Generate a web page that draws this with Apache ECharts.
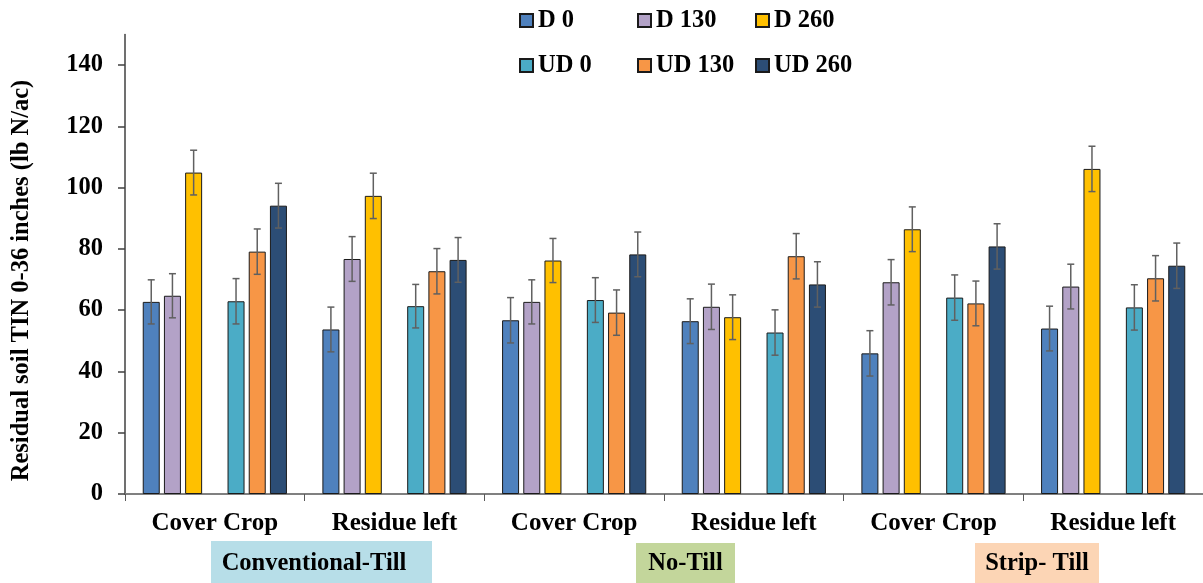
<!DOCTYPE html>
<html>
<head>
<meta charset="utf-8">
<script src="https://cdn.jsdelivr.net/npm/echarts@6/dist/echarts.min.js"></script>
<style>
html,body{margin:0;padding:0;background:#fff;}
#chart{width:1203px;height:583px;}
</style>
</head>
<body>
<div id="chart"></div>
<script>
// ---- data ----
const categories = ['Cover Crop', 'Residue left', 'Cover Crop', 'Residue left', 'Cover Crop', 'Residue left'];
const yTicks = [0, 20, 40, 60, 80, 100, 120, 140];
const seriesNames = ['D 0', 'D 130', 'D 260', 'UD 0', 'UD 130', 'UD 260'];
const D0 = [62.7, 53.7, 56.7, 56.4, 45.9, 54.0];
const D130 = [64.7, 76.7, 62.7, 61.1, 69.1, 67.7];
const D260 = [104.9, 97.3, 76.2, 57.7, 86.4, 106.1];
const UD0 = [62.9, 61.3, 63.3, 52.7, 64.1, 60.9];
const UD130 = [79.1, 72.7, 59.2, 77.6, 62.2, 70.4];
const UD260 = [94.1, 76.4, 78.2, 68.4, 80.8, 74.5];
const errD0 = [7.2, 7.3, 7.4, 7.3, 7.4, 7.3];
const errD130 = [7.2, 7.3, 7.2, 7.4, 7.4, 7.3];
const errD260 = [7.3, 7.4, 7.2, 7.3, 7.3, 7.4];
const errUD0 = [7.4, 7.1, 7.3, 7.4, 7.4, 7.4];
const errUD130 = [7.4, 7.4, 7.4, 7.4, 7.3, 7.4];
const errUD260 = [7.3, 7.3, 7.3, 7.4, 7.4, 7.4];
const tillageGroups = ['Conventional-Till', 'No-Till', 'Strip- Till'];
const yTitle = 'Residual soil TIN 0-36 inches (lb N/ac)';

// ---- styling ----
const FONT = '"Liberation Serif", "Times New Roman", serif';
const colors = ['#4F81BD', '#B3A2C7', '#FFC000', '#4BACC6', '#F79646', '#2C4D75'];
const values = [D0, D130, D260, UD0, UD130, UD260];
const errors = [errD0, errD130, errD260, errUD0, errUD130, errUD260];
const slots = [0, 1, 2, 4, 5, 6]; // slot 3 is an empty spacer
const NSLOT = 7;
const BAR_W = 17;
const BAR_GAP = 0.247;
const STEP = BAR_W * (1 + BAR_GAP);

const series = [];
// bar series, including spacer
for (let s = 0; s < NSLOT; s++) {
  const k = slots.indexOf(s);
  if (k < 0) {
    series.push({type: 'bar', name: '', data: categories.map(() => null), barWidth: BAR_W, barGap: (BAR_GAP * 100) + '%'});
  } else {
    series.push({
      type: 'bar', name: seriesNames[k], data: values[k],
      barWidth: BAR_W, barGap: (BAR_GAP * 100) + '%',
      itemStyle: {color: colors[k], borderColor: '#1a1a1a', borderWidth: 1},
      emphasis: {disabled: true}
    });
  }
}
// error bars
for (let k = 0; k < 6; k++) {
  const slot = slots[k];
  series.push({
    type: 'custom', name: seriesNames[k] + ' err', z: 10, silent: true,
    data: values[k].map((v, i) => [i, v, errors[k][i]]),
    renderItem: function (params, api) {
      const ci = api.value(0), v = api.value(1), e = api.value(2);
      const top = api.coord([ci, v + e]);
      const bot = api.coord([ci, v - e]);
      const x = top[0] + (slot - (NSLOT - 1) / 2) * STEP;
      const cap = 3.5;
      const st = {stroke: '#606060', lineWidth: 1.5};
      return {type: 'group', children: [
        {type: 'line', shape: {x1: x, y1: top[1], x2: x, y2: bot[1]}, style: st},
        {type: 'line', shape: {x1: x - cap, y1: top[1], x2: x + cap, y2: top[1]}, style: st},
        {type: 'line', shape: {x1: x - cap, y1: bot[1], x2: x + cap, y2: bot[1]}, style: st}
      ]};
    }
  });
}

// legends (2 rows x 3 cols)
const legendLeft = [519, 637, 755];
const legendTop = [8, 53];
const legends = seriesNames.map((n, k) => ({
  data: [n], left: legendLeft[k % 3], top: legendTop[Math.floor(k / 3)],
  padding: 0, itemGap: 0, itemWidth: 13, itemHeight: 13, icon: 'rect', selectedMode: false,
  textStyle: {fontFamily: FONT, fontWeight: 'bold', fontSize: 24.5, color: '#000', padding: [0, 0, 0, 0]}
}));

// tillage group boxes
const boxes = [
  {x: 211, y: 541, w: 221, h: 42, fill: '#B7DEE8', tx: 314},
  {x: 636, y: 543, w: 99, h: 40, fill: '#C3D69B', tx: 685.5},
  {x: 975, y: 543, w: 124, h: 40, fill: '#FCD5B5', tx: 1037}
];
const graphics = [];
boxes.forEach((b, i) => {
  graphics.push({type: 'rect', left: b.x, top: b.y, shape: {width: b.w, height: b.h}, style: {fill: b.fill}, z: 1});
  graphics.push({type: 'text', x: b.tx, y: 564, z: 2, style: {text: tillageGroups[i], fill: '#000', font: 'bold 24.5px ' + FONT, textAlign: 'center', textVerticalAlign: 'middle'}});
});
graphics.push({type: 'text', x: 22, y: 280.5, rotation: Math.PI / 2, z: 2,
  style: {text: yTitle, fill: '#000', font: 'bold 24.5px ' + FONT, textAlign: 'center', textVerticalAlign: 'middle'}});

const option = {
  animation: false,
  backgroundColor: '#fff',
  grid: {left: 125, right: -5, top: 34.4, bottom: 89, containLabel: false},
  legend: legends,
  xAxis: {
    type: 'category', data: categories,
    axisLine: {lineStyle: {color: '#808080', width: 2}},
    axisTick: {show: true, length: 7, lineStyle: {color: '#595959', width: 1}},
    axisLabel: {interval: 0, margin: 17, color: '#000', fontFamily: FONT, fontWeight: 'bold', fontSize: 25}
  },
  yAxis: {
    type: 'value', min: 0, max: 150, interval: 20,
    axisLine: {show: true, lineStyle: {color: '#404040', width: 1.5}},
    axisTick: {show: true, length: 7, customValues: yTicks, lineStyle: {color: '#404040', width: 1.5}},
    axisLabel: {customValues: yTicks, margin: 22, color: '#000', fontFamily: FONT, fontWeight: 'bold', fontSize: 24.5},
    splitLine: {show: false}
  },
  graphic: graphics,
  series: series
};

const chart = echarts.init(document.getElementById('chart'), null, {renderer: 'canvas'});
chart.setOption(option);
</script>
</body>
</html>
